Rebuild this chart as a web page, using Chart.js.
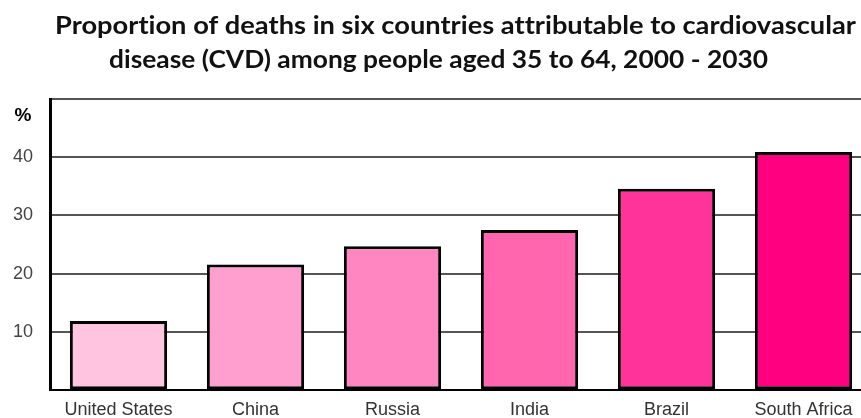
<!DOCTYPE html>
<html>
<head>
<meta charset="utf-8">
<script src="https://cdn.jsdelivr.net/npm/chart.js@4/dist/chart.umd.min.js"></script>
<style>
  html, body { margin: 0; padding: 0; background: #fff; overflow: hidden; }
  #wrap { width: 872px; height: 418px; position: relative; }
</style>
</head>
<body>
<div id="wrap"><canvas id="c" width="872" height="418"></canvas></div>
<script>
const titleLines = [
  "Proportion of deaths in six countries attributable to cardiovascular",
  "disease (CVD) among people aged 35 to 64, 2000 - 2030"
];
const unitLabel = "%";
const categories = ["United States", "China", "Russia", "India", "Brazil", "South Africa"];
const cvdShare = [11.9, 21.6, 24.7, 27.5, 34.6, 40.9];
const barColors = ["#ffc4e0", "#ff9fcf", "#ff86c1", "#ff66ad", "#ff3399", "#ff0080"];
const yTicks = [10, 20, 30, 40];

const titlePlugin = {
  id: 'customTitle',
  afterDraw(chart) {
    const ctx = chart.ctx;
    ctx.save();
    ctx.fillStyle = '#111';
    ctx.textBaseline = 'alphabetic';
    ctx.textAlign = 'left';
    try { ctx.letterSpacing = '0.01px'; } catch (e) {}
    ctx.font = 'bold 25px Lato';
    const lines = [
      { text: titleLines[0], x: 55, y: 34, w: 801 },
      { text: titleLines[1], x: 109, y: 68, w: 659 }
    ];
    lines.forEach(l => {
      const sx = l.w / ctx.measureText(l.text).width;
      ctx.save();
      ctx.scale(sx, 1);
      ctx.fillText(l.text, l.x / sx, l.y);
      ctx.restore();
    });
    try { ctx.letterSpacing = '0px'; } catch (e) {}
    // unit label
    ctx.font = 'bold 19px "Liberation Sans", Arial, sans-serif';
    ctx.fillStyle = '#000';
    ctx.textAlign = 'center';
    ctx.textBaseline = 'middle';
    ctx.fillText(unitLabel, 23, 116);
    ctx.restore();
  }
};

new Chart(document.getElementById('c'), {
  type: 'bar',
  data: {
    labels: categories,
    datasets: [{
      data: cvdShare,
      backgroundColor: barColors,
      borderColor: '#000',
      borderWidth: 3,
      borderSkipped: false,
      categoryPercentage: 1,
      barPercentage: 0.71
    }]
  },
  options: {
    responsive: false,
    animation: false,
    layout: { padding: { top: 99, right: 0, left: 0, bottom: 0 } },
    plugins: { legend: { display: false }, title: { display: false }, tooltip: { enabled: false } },
    scales: {
      x: {
        grid: { display: false, drawTicks: false },
        border: { display: true, color: '#000', width: 2 },
        ticks: {
          color: '#333',
          padding: 9,
          font: { family: '"Liberation Sans", Arial, sans-serif', size: 18 },
          maxRotation: 0, autoSkip: false
        },
        afterFit(s) { s.height = 26; }
      },
      y: {
        min: 0, max: 50,
        afterBuildTicks(s) { s.ticks = [0, ...yTicks, 50].map(v => ({ value: v })); },
        grid: { color: '#555', lineWidth: 2, drawTicks: false },
        border: { display: true, color: '#000', width: 3 },
        ticks: {
          color: '#444',
          padding: 17,
          font: { family: '"Liberation Sans", Arial, sans-serif', size: 18 },
          callback: v => yTicks.includes(v) ? String(v) : ''
        },
        afterFit(s) { s.width = 50; }
      }
    }
  },
  plugins: [titlePlugin]
});
</script>
</body>
</html>
